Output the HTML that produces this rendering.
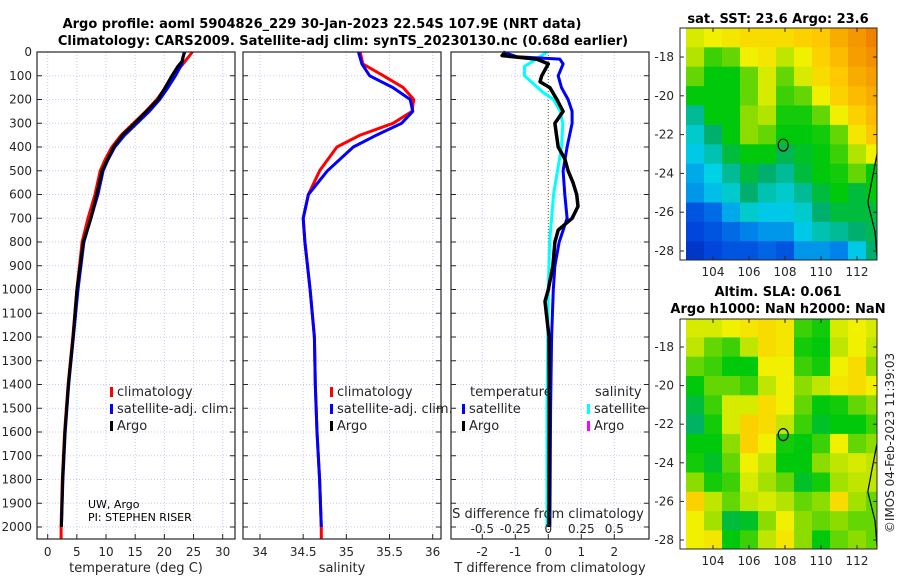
<!DOCTYPE html>
<html><head><meta charset="utf-8"><style>
body{margin:0;background:#fff}
svg{display:block;font-family:"DejaVu Sans","Liberation Sans",sans-serif}
</style></head><body>
<svg id="c" width="900" height="580" viewBox="0 0 900 580"></svg>
<script>
// ---- data ----
const tDepth=[0,50,100,150,200,250,300,350,400,450,500,600,700,800,1000,1200,1400,1600,1800,2000,2050];
const tClim=[24.8,23.2,21.5,20.2,18.7,16.8,14.7,12.6,11,9.9,9,8.1,6.9,5.9,5,4.3,3.5,2.9,2.5,2.3,2.3];
const tSat=[23.4,23.0,21.9,20.6,19.2,17.4,15.3,13.2,11.5,10.4,9.5,8.6,7.4,6.2,5.2,4.4,3.6,3.0,2.6,2.35];
const tArgoDepth=[0,20,40,60,100,150,200,250,300,350,400,500,600,700,800,1000,1200,1400,1600,1800,2000];
const tArgo=[23.5,23.2,23.0,22.3,21.3,20.1,18.9,16.9,14.9,12.8,11.3,9.3,8.4,7.4,6.1,5.0,4.35,3.55,2.95,2.55,2.35];
const sDepth=[0,50,100,150,200,250,300,350,400,500,600,700,800,1000,1200,1400,1600,1800,2000,2050];
const sClim=[35.16,35.19,35.43,35.66,35.78,35.76,35.54,35.16,34.89,34.69,34.56,34.5,34.52,34.58,34.63,34.64,34.66,34.69,34.71,34.71];
const sSat=[35.14,35.18,35.27,35.54,35.74,35.77,35.64,35.35,35.08,34.78,34.56,34.5,34.52,34.58,34.63,34.64,34.66,34.69,34.71];
const dDepth=[0,20,30,50,100,150,200,250,300,400,500,600,700,800,900,1000,1200,1500,2000];
const dTSat=[-1.37,-0.95,0.35,0.45,0.3,0.4,0.6,0.72,0.72,0.57,0.45,0.5,0.57,0.33,0.2,0.15,0.1,0.07,0.05];
const dTArgoDepth=[0,15,30,50,100,125,150,200,250,300,350,400,450,500,550,600,650,700,750,800,900,1000,1050,1200,1500,2000];
const dTArgo=[-1.3,-1.4,-0.35,0,-0.2,-0.25,0.05,0.26,0.45,0.2,0.25,0.3,0.5,0.6,0.75,0.86,0.9,0.72,0.3,0.2,0.14,0,-0.1,0.02,0.03,0.02];
const dSDepth=[0,30,60,100,130,170,200,250,300,400,500,600,800,1000,1500,2000];
const dSSat=[-0.01,-0.09,-0.18,-0.18,-0.12,-0.04,0.04,0.09,0.11,0.1,0.07,0.04,0.01,0,-0.01,-0.01];
const tTicks=[0,5,10,15,20,25,30];
const sTicks=[34,34.5,35,35.5,36];
const dTTicks=[-2,-1,0,1,2];
const dSTicks=[-0.5,-0.25,0,0.25,0.5];
const dSTickLabels=["-0.5","-0.25","0","0.25","0.5"];
const depthTicks=[0,100,200,300,400,500,600,700,800,900,1000,1100,1200,1300,1400,1500,1600,1700,1800,1900,2000];
const lonTicks=[104,106,108,110,112];
const latTicks=[-18,-20,-22,-24,-26,-28];
const sst=[
[0.68,0.7,0.72,0.74,0.74,0.74,0.76,0.78,0.82,0.85,0.88],
[0.65,0.58,0.6,0.7,0.72,0.66,0.7,0.76,0.8,0.84,0.86],
[0.6,0.55,0.55,0.6,0.68,0.6,0.68,0.74,0.78,0.82,0.84],
[0.55,0.55,0.55,0.6,0.68,0.58,0.6,0.7,0.76,0.8,0.82],
[0.42,0.55,0.55,0.62,0.65,0.56,0.56,0.6,0.7,0.76,0.8],
[0.38,0.45,0.55,0.62,0.6,0.55,0.55,0.56,0.6,0.72,0.78],
[0.35,0.4,0.5,0.55,0.55,0.48,0.52,0.55,0.58,0.65,0.7],
[0.32,0.36,0.42,0.5,0.45,0.42,0.5,0.55,0.56,0.6,0.55],
[0.3,0.34,0.38,0.45,0.4,0.38,0.42,0.5,0.55,0.5,0.55],
[0.22,0.25,0.32,0.38,0.35,0.35,0.38,0.45,0.5,0.5,0.5],
[0.2,0.22,0.25,0.28,0.3,0.3,0.35,0.4,0.42,0.45,0.48],
[0.17,0.2,0.22,0.22,0.24,0.22,0.3,0.3,0.28,0.35,0.45]];
const sla=[
[0.68,0.68,0.7,0.72,0.74,0.72,0.58,0.56,0.68,0.7,0.68],
[0.66,0.6,0.58,0.66,0.74,0.72,0.56,0.55,0.66,0.7,0.66],
[0.6,0.58,0.55,0.55,0.7,0.7,0.58,0.56,0.7,0.74,0.62],
[0.55,0.6,0.6,0.58,0.66,0.7,0.62,0.66,0.72,0.74,0.7],
[0.5,0.58,0.68,0.68,0.74,0.7,0.6,0.55,0.56,0.6,0.62],
[0.46,0.56,0.68,0.76,0.74,0.66,0.58,0.52,0.55,0.55,0.58],
[0.55,0.55,0.62,0.76,0.7,0.56,0.55,0.58,0.7,0.6,0.62],
[0.56,0.52,0.6,0.7,0.66,0.55,0.55,0.62,0.66,0.68,0.66],
[0.62,0.56,0.58,0.68,0.64,0.6,0.52,0.56,0.64,0.66,0.66],
[0.76,0.66,0.6,0.66,0.68,0.65,0.6,0.62,0.74,0.64,0.6],
[0.7,0.64,0.5,0.52,0.62,0.7,0.62,0.6,0.62,0.6,0.6],
[0.7,0.72,0.55,0.58,0.66,0.72,0.62,0.55,0.6,0.62,0.6]];
const mapLons=[103,104,105,106,107,108,109,110,111,112,113];
const mapLats=[-17,-18,-19,-20,-21,-22,-23,-24,-25,-26,-27,-28];
const argoLon=107.9, argoLat=-22.54;

// ---- helpers ----
const svg=document.getElementById('c');const NS='http://www.w3.org/2000/svg';
function mk(tag,attrs,parent,name){const e=document.createElementNS(NS,tag);for(const k in attrs)e.setAttribute(k,attrs[k]);


(parent||svg).appendChild(e);return e;}
function txt(x,y,s,opt,name){const t=mk('text',Object.assign({x:x,y:y,'font-size':12,fill:'#262626'},opt||{}),null,name);t.textContent=s;return t;}
const Y0=52,YB=539;const dy=d=>Y0+d*(527-52)/2000;
function line(xs,ds,xf,color,w,name){let p='';for(let i=0;i<xs.length;i++)p+=(i?'L':'M')+xf(xs[i]).toFixed(1)+','+dy(ds[i]).toFixed(1);
mk('path',{d:p,fill:'none',stroke:color,'stroke-width':w,'stroke-linejoin':'round'},null,name);}
function panel(x0,x1,xf,ticks,labels,xlabel,name,showDepth){
 mk('rect',{x:x0,y:Y0,width:x1-x0,height:YB-Y0,fill:'#fff'},null,name+'-bg');
 depthTicks.forEach(d=>{mk('line',{x1:x0,x2:x1,y1:dy(d),y2:dy(d),stroke:'#c4cbee','stroke-width':1,'stroke-dasharray':'1,2'},null,name+'-hgrid');
  mk('line',{x1:x0,x2:x0+5,y1:dy(d),y2:dy(d),stroke:'#262626'},null,'depth-tick');mk('line',{x1:x1-5,x2:x1,y1:dy(d),y2:dy(d),stroke:'#262626'},null,'depth-tick');
  if(showDepth)txt(x0-5,dy(d)+4,String(d),{'text-anchor':'end'},'depth-tick-label');});
 ticks.forEach((t,i)=>{const x=xf(t);mk('line',{x1:x,x2:x,y1:Y0,y2:YB,stroke:'#c4cbee','stroke-dasharray':'1,2'},null,name+'-vgrid');
  mk('line',{x1:x,x2:x,y1:YB,y2:YB-5,stroke:'#262626'},null,name+'-tick');
  txt(x,556,labels[i],{'text-anchor':'middle'},name+'-tick-label');});
 txt((x0+x1)/2,572,xlabel,{'text-anchor':'middle','font-size':13},name+'-axis-title');
}
function frame(x0,x1){mk('rect',{x:x0,y:Y0,width:x1-x0,height:YB-Y0,fill:'none',stroke:'#262626','stroke-width':1.2},null,'panel-frame');}

// titles
txt(322,28,'Argo profile: aoml 5904826_229 30-Jan-2023 22.54S 107.9E (NRT data)',{'text-anchor':'middle','font-weight':'bold','font-size':13,fill:'#000'},'main-title-line1');
txt(343,45,'Climatology: CARS2009. Satellite-adj clim: synTS_20230130.nc (0.68d earlier)',{'text-anchor':'middle','font-weight':'bold','font-size':13,fill:'#000'},'main-title-line2');

// panel 1 temperature
const tx=v=>47.7+v*(222.7-47.7)/30;
panel(37,235,tx,tTicks,tTicks.map(String),'temperature (deg C)','temperature-panel',true);
line(tClim,tDepth,tx,'#ff0000',3,'temp-climatology-line');
line(tSat,tDepth.slice(0,tSat.length),tx,'#0000ff',3,'temp-satellite-line');
line(tArgo,tArgoDepth,tx,'#000',3,'temp-argo-line');
frame(37,235);
// panel 2 salinity
const sx=v=>260+(v-34)*86.35;
panel(243,441,sx,sTicks,sTicks.map(String),'salinity','salinity-panel',false);
line(sClim,sDepth,sx,'#ff0000',3,'sal-climatology-line');
line(sSat,sDepth.slice(0,sSat.length),sx,'#0000ff',3,'sal-satellite-line');
frame(243,441);
// panel 3 differences
const dtx=v=>548.3+v*33;const dsx=v=>548.3+v*132;
panel(451,649,dtx,dTTicks,dTTicks.map(String),'T difference from climatology','difference-panel',false);
mk('line',{x1:dtx(0),x2:dtx(0),y1:Y0,y2:YB,stroke:'#556b2f','stroke-dasharray':'1,2'},null,'zero-line');
line(dSSat,dSDepth,dsx,'#00ffff',3,'sal-diff-satellite-line');
line(dTSat,dDepth,dtx,'#0000ff',3,'temp-diff-satellite-line');
line(dTArgo,dTArgoDepth,dtx,'#000',3.5,'temp-diff-argo-line');
txt(548,518,'S difference from climatology',{'text-anchor':'middle','font-size':13},'s-diff-axis-title');
dSTicks.forEach((t,i)=>txt(dsx(t),533,dSTickLabels[i],{'text-anchor':'middle'},'s-diff-tick-label'));
frame(451,649);

// legends
function leg(x,y,c,s,name){mk('rect',{x:x,y:y-9,width:3,height:10,fill:c},null,name+'-swatch');txt(x+7,y,s,{'font-size':13},name+'-label');}
leg(110,396,'#ff0000','climatology','legend-climatology');leg(110,413,'#0000ff','satellite-adj. clim.','legend-satellite-adj');leg(110,430,'#000','Argo','legend-argo');
leg(330,396,'#ff0000','climatology','legend2-climatology');leg(330,413,'#0000ff','satellite-adj. clim.','legend2-satellite-adj');leg(330,430,'#000','Argo','legend2-argo');
txt(470,396,'temperature',{'font-size':13},'legend3-temperature-header');
leg(462,413,'#0000ff','satellite','legend3-temp-satellite');leg(462,430,'#000','Argo','legend3-temp-argo');
txt(595,396,'salinity',{'font-size':13},'legend3-salinity-header');
leg(587,413,'#00ffff','satellite','legend3-sal-satellite');leg(587,430,'#ff00ff','Argo','legend3-sal-argo');
txt(88,508,'UW, Argo',{'font-size':11,fill:'#000'},'institution-label');
txt(88,521,'PI: STEPHEN RISER',{'font-size':11,fill:'#000'},'pi-label');

// maps
const cmStops=[0.12,0.2,0.28,0.36,0.45,0.55,0.62,0.7,0.78,0.88];
const cmCols=[[0,30,170],[0,70,220],[0,130,235],[0,210,230],[0,175,110],[0,200,10],[140,220,0],[240,240,0],[255,200,0],[240,130,0]];
function cmap(v){if(v<=cmStops[0])return 'rgb('+cmCols[0]+')';
 for(let i=1;i<cmStops.length;i++){if(v<=cmStops[i]){const f=(v-cmStops[i-1])/(cmStops[i]-cmStops[i-1]);const a=cmCols[i-1],b=cmCols[i];
  return 'rgb('+a.map((c,k)=>Math.round(c+(b[k]-c)*f)).join(',')+')';}}
 return 'rgb('+cmCols[cmCols.length-1]+')';}
function map(grid,top,bot,latAt18,latAt28,name){
 const L=680,R=877;const mx=lon=>713+(lon-104)*18;const my=lat=>latAt18+(-18-lat)*(latAt28-latAt18)/10;
 const cw=18,ch=(latAt28-latAt18)/10;
 const g=mk('g',{},null,name);
 const cp=mk('clipPath',{id:name+'-clip'},null,name+'-clip');mk('rect',{x:L,y:top,width:R-L,height:bot-top},cp,'clip-rect');
 g.setAttribute('clip-path','url(#'+name+'-clip)');
 grid.forEach((row,i)=>row.forEach((v,j)=>{mk('rect',{x:(mx(mapLons[j])-cw/2).toFixed(1),y:(my(mapLats[i])-ch/2).toFixed(1),width:cw+0.6,height:ch+0.6,fill:cmap(v)},g,name+'-cell');}));
 mk('path',{d:`M${R},${my(-23)} L${mx(112.8)},${my(-24.5)} L${mx(112.6)},${my(-25.5)} L${mx(113)},${my(-27)} L${R},${my(-28.3)}`,fill:'none',stroke:'#000','stroke-width':1.2},g,'coastline');
 mk('ellipse',{cx:mx(argoLon),cy:my(argoLat),rx:5,ry:6,fill:'none',stroke:'#000','stroke-width':1.2},null,'argo-location-marker');
 mk('rect',{x:L,y:top,width:R-L,height:bot-top,fill:'none',stroke:'#262626'},null,name+'-frame');
 lonTicks.forEach(l=>{mk('line',{x1:mx(l),x2:mx(l),y1:bot,y2:bot-4,stroke:'#262626'},null,'lon-tick');mk('line',{x1:mx(l),x2:mx(l),y1:top,y2:top+4,stroke:'#262626'},null,'lon-tick');txt(mx(l),bot+16,String(l),{'text-anchor':'middle'},'lon-tick-label');});
 latTicks.forEach(l=>{mk('line',{x1:L,x2:L+4,y1:my(l),y2:my(l),stroke:'#262626'},null,'lat-tick');mk('line',{x1:R-4,x2:R,y1:my(l),y2:my(l),stroke:'#262626'},null,'lat-tick');txt(L-6,my(l)+4,String(l),{'text-anchor':'end'},'lat-tick-label');});
}
map(sst,28,260,57,251,'sst-map');
map(sla,319,549,347,540,'sla-map');
txt(778,23,'sat. SST: 23.6 Argo: 23.6',{'text-anchor':'middle','font-weight':'bold','font-size':13,fill:'#000'},'sst-map-title');
txt(778,296,'Altim. SLA: 0.061',{'text-anchor':'middle','font-weight':'bold','font-size':13,fill:'#000'},'sla-map-title-line1');
txt(778,313,'Argo h1000: NaN h2000: NaN',{'text-anchor':'middle','font-weight':'bold','font-size':13,fill:'#000'},'sla-map-title-line2');
txt(0,0,'©IMOS 04-Feb-2023 11:39:03',{'text-anchor':'middle','font-size':12,transform:'translate(894,443) rotate(-90)'},'copyright-timestamp');
</script>
</body></html>
